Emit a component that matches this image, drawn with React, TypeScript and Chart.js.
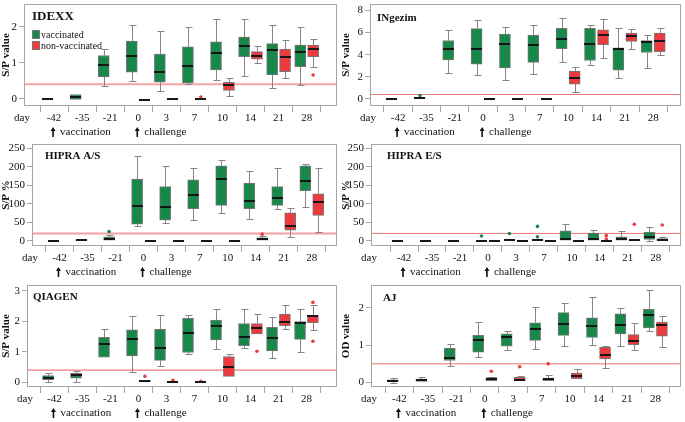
import React, { useEffect, useRef } from 'react';
import { Chart, registerables } from 'chart.js';
Chart.register(...registerables);

const FONT = "'Liberation Serif', 'Times New Roman', serif";
const GREEN = '#18884a';
const RED = '#ec3a3e';
const BOX_BORDER = 'rgba(95,95,95,0.85)';
const WHISKER = '#858585';
const FRAME = '#a6a6a6';
const OFF = 0.23;
const BW = 11;
const CAP = 3;

const days = ['-42', '-35', '-21', '0', '3', '7', '10', '14', '21', '28'];

type Box = [number, number, number, number, number] | null; // [low, q1, median, q3, high]

// ---------- IDEXX (S/P value)
const idexxVacc: Box[] = [
  [0, 0, 0, 0, 0], [-0.02, -0.02, 0.05, 0.12, 0.12], [0.35, 0.61, 0.93, 1.2, 1.37],
  [0.48, 0.74, 1.19, 1.6, 2.04], [0.22, 0.46, 0.75, 1.24, 1.88], [0.41, 0.44, 0.91, 1.44, 2.0],
  [0.53, 0.8, 1.26, 1.58, 2.22], [0.64, 1.17, 1.46, 1.71, 2.22], [0.3, 0.66, 1.35, 1.53, 2.04],
  [0.39, 0.89, 1.29, 1.49, 2.0],
];
const idexxNonVacc: Box[] = [
  null, null, null, [-0.02, -0.02, -0.02, -0.02, -0.02], [0, 0, 0, 0, 0], [0, 0, 0, 0, 0],
  [0.07, 0.23, 0.39, 0.46, 0.57], [1.0, 1.1, 1.2, 1.31, 1.46], [0.57, 0.75, 1.15, 1.37, 1.64],
  [0.88, 1.17, 1.38, 1.49, 1.67],
];
const idexxVaccOut: [number, number][] = [];
const idexxNonVaccOut: [number, number][] = [[5, 0.05], [9, 0.66]];

// ---------- INgezim (S/P value)
const ingezimVacc: Box[] = [
  [0, 0, 0, 0, 0], [0.03, 0.03, 0.05, 0.08, 0.08], [2.36, 3.53, 4.5, 5.28, 6.25],
  [2.16, 3.15, 4.55, 6.36, 7.12], [1.7, 2.8, 4.93, 5.87, 6.5], [2.28, 3.3, 4.9, 5.78, 6.66],
  [3.3, 4.55, 5.43, 6.39, 7.33], [3.1, 3.47, 4.99, 6.39, 6.69], [1.87, 2.6, 4.55, 4.61, 6.45],
  [2.8, 4.2, 5.14, 5.28, 5.81],
];
const ingezimNonVacc: Box[] = [
  null, null, null, [0, 0, 0, 0, 0], [0, 0, 0, 0, 0], [0, 0, 0, 0, 0],
  [0.61, 1.34, 1.87, 2.51, 2.9], [3.68, 4.9, 5.81, 6.25, 7.24], [4.5, 5.2, 5.72, 5.96, 6.3],
  [3.97, 4.26, 5.28, 5.96, 6.45],
];
const ingezimVaccOut: [number, number][] = [[1, 0.3]];
const ingezimNonVaccOut: [number, number][] = [];

// ---------- HIPRA A/S (S/P %)
const hipraAsVacc: Box[] = [
  [0, 0, 0, 0, 0], [1, 1, 2, 3, 3], [0, 2, 6, 11, 15],
  [41, 45, 93, 167, 230], [48, 56, 91, 147, 203], [57, 87, 125, 165, 197],
  [75, 96, 168, 203, 219], [58, 87, 107, 156, 188], [87, 96, 117, 147, 198],
  [92, 136, 162, 203, 208],
];
const hipraAsNonVacc: Box[] = [
  null, null, null, [0, 0, 0, 0, 0], [0, 0, 0, 0, 0], [0, 0, 0, 0, 0],
  [0, 0, 0, 0, 0], [0, 2, 5, 8, 12], [11, 29, 41, 76, 88],
  [23, 69, 106, 127, 196],
];
const hipraAsVaccOut: [number, number][] = [[2, 25]];
const hipraAsNonVaccOut: [number, number][] = [[7, 18]];

// ---------- HIPRA E/S (S/P %)
const hipraEsVacc: Box[] = [
  [0, 0, 0, 0, 0], [0, 0, 0, 0, 0], [0, 0, 0, 0, 0],
  [0, 0, 0, 0, 0], [0, 0, 1, 1, 1], [0, 0, 2, 5, 5],
  [0, 2, 6, 27, 45], [0, 2, 6, 21, 30], [0, 2, 4, 11, 27],
  [0, 4, 10, 24, 37],
];
const hipraEsNonVacc: Box[] = [
  null, null, null, [0, 0, 0, 0, 0], [0, 0, 0, 0, 0], [0, 0, 0, 0, 0],
  [0, 0, 0, 0, 0], [0, 0, 0, 0, 0], [0, 0, 1, 3, 5],
  [0, 0, 3, 6, 11],
];
const hipraEsVaccOut: [number, number][] = [[3, 13], [4, 20], [5, 11], [5, 39]];
const hipraEsNonVaccOut: [number, number][] = [[7, 14], [7, 5], [8, 45], [9, 43]];

// ---------- QIAGEN (S/P value)
const qiagenVacc: Box[] = [
  [0, 0.09, 0.14, 0.22, 0.3], [0.02, 0.14, 0.23, 0.3, 0.38], [0.8, 0.83, 1.26, 1.48, 1.74],
  [0.35, 0.87, 1.41, 1.72, 2.17], [0.55, 0.72, 1.14, 1.74, 2.2], [0.92, 0.98, 1.63, 2.1, 2.2],
  [1.09, 1.39, 1.85, 2.04, 2.39], [1.14, 1.2, 1.48, 1.93, 2.42], [0.79, 1.03, 1.45, 1.8, 2.13],
  [0.98, 1.41, 1.93, 1.99, 2.39],
];
const qiagenNonVacc: Box[] = [
  null, null, null, [0, 0, 0.04, 0.07, 0.07], [0.02, 0.02, 0.03, 0.03, 0.03], [0.01, 0.01, 0.01, 0.01, 0.01],
  [0.17, 0.2, 0.5, 0.85, 0.93], [1.59, 1.59, 1.77, 1.93, 2.24], [1.74, 1.86, 1.99, 2.24, 2.55],
  [1.72, 1.96, 2.17, 2.2, 2.53],
];
const qiagenVaccOut: [number, number][] = [];
const qiagenNonVaccOut: [number, number][] = [[3, 0.2], [4, 0.07], [5, 0.04], [7, 1.02], [9, 2.62], [9, 1.35]];

// ---------- AJ (OD value)
const ajVacc: Box[] = [
  [0, 0.03, 0.05, 0.07, 0.13], [0.02, 0.03, 0.06, 0.09, 0.16], [0.45, 0.59, 0.65, 0.92, 1.03],
  [0.67, 0.81, 1.13, 1.26, 1.61], [0.88, 0.97, 1.21, 1.3, 1.37], [0.91, 1.13, 1.44, 1.6, 2.03],
  [0.99, 1.26, 1.57, 1.87, 2.13], [1.01, 1.21, 1.52, 1.73, 2.3], [0.99, 1.3, 1.53, 1.84, 2.0],
  [1.37, 1.46, 1.8, 1.96, 2.48],
];
const ajNonVacc: Box[] = [
  null, null, null, [0.04, 0.05, 0.09, 0.13, 0.16], [0.03, 0.05, 0.08, 0.14, 0.17], [0.03, 0.05, 0.09, 0.12, 0.2],
  [0.08, 0.1, 0.18, 0.25, 0.37], [0.39, 0.63, 0.74, 0.94, 0.97], [0.86, 1.01, 1.12, 1.28, 1.6],
  [0.94, 1.24, 1.53, 1.62, 1.79],
];
const ajVaccOut: [number, number][] = [];
const ajNonVaccOut: [number, number][] = [[3, 0.3], [4, 0.42], [5, 0.5]];

const panels = [
  {
    key: 'idexx', title: 'IDEXX', titleSize: 13, titleOff: [8, 13], yTitle: 'S/P value',
    vacc: idexxVacc, non: idexxNonVacc, vaccOut: idexxVaccOut, nonOut: idexxNonVaccOut,
    yMin: -0.2, yMax: 2.63, yTicks: [0, 1, 2], cutoff: 0.4, cutColor: '#f5a5a5', cutWidth: 2,
    box: [0, 0, 342, 140], area: { l: 24, r: 337, t: 1, b: 106 }, xMin: -1.07, xMax: 10.08, legend: true,
  },
  {
    key: 'ingezim', title: 'INgezim', titleSize: 11, titleOff: [7, 14], yTitle: 'S/P value',
    vacc: ingezimVacc, non: ingezimNonVacc, vaccOut: ingezimVaccOut, nonOut: ingezimNonVaccOut,
    yMin: -0.64, yMax: 8.58, yTicks: [0, 2, 4, 6, 8], cutoff: 0.4, cutColor: '#f07878', cutWidth: 1,
    box: [340, 0, 345, 140], area: { l: 30, r: 343, t: 1, b: 106 }, xMin: -0.99, xMax: 9.98, legend: false,
  },
  {
    key: 'hipraas', title: 'HIPRA A/S', titleSize: 11, titleOff: [13, 12], yTitle: 'S/P %',
    vacc: hipraAsVacc, non: hipraAsNonVacc, vaccOut: hipraAsVaccOut, nonOut: hipraAsNonVaccOut,
    yMin: -14, yMax: 262, yTicks: [0, 50, 100, 150, 200, 250], cutoff: 20, cutColor: '#f5a0a0', cutWidth: 2,
    box: [0, 140, 342, 140], area: { l: 32, r: 337, t: 3, b: 106 }, xMin: -0.98, xMax: 9.9, legend: false,
  },
  {
    key: 'hipraes', title: 'HIPRA E/S', titleSize: 11, titleOff: [16, 12], yTitle: 'S/P %',
    vacc: hipraEsVacc, non: hipraEsNonVacc, vaccOut: hipraEsVaccOut, nonOut: hipraEsNonVaccOut,
    yMin: -14, yMax: 262, yTicks: [0, 50, 100, 150, 200, 250], cutoff: 20, cutColor: '#f07070', cutWidth: 1,
    box: [340, 140, 345, 140], area: { l: 31, r: 343, t: 3, b: 106 }, xMin: -1.18, xMax: 9.9, legend: false,
  },
  {
    key: 'qiagen', title: 'QIAGEN', titleSize: 11, titleOff: [6, 12], yTitle: 'S/P value',
    vacc: qiagenVacc, non: qiagenNonVacc, vaccOut: qiagenVaccOut, nonOut: qiagenNonVaccOut,
    yMin: -0.15, yMax: 3.19, yTicks: [0, 1, 2, 3], cutoff: 0.4, cutColor: '#f27a7a', cutWidth: 1.2,
    box: [0, 280, 342, 142], area: { l: 27, r: 337, t: 5, b: 107 }, xMin: -0.98, xMax: 10.09, legend: false,
  },
  {
    key: 'aj', title: 'AJ', titleSize: 11, titleOff: [12, 13], yTitle: 'OD value',
    vacc: ajVacc, non: ajNonVacc, vaccOut: ajVaccOut, nonOut: ajNonVaccOut,
    yMin: -0.12, yMax: 2.61, yTicks: [0, 1, 2], cutoff: 0.5, cutColor: '#f07070', cutWidth: 1,
    box: [340, 280, 345, 142], area: { l: 31, r: 343, t: 5, b: 107 }, xMin: -1.0, xMax: 9.9, legend: false,
  },
];

function drawArrow(ctx: CanvasRenderingContext2D, x: number, y: number) {
  ctx.save();
  ctx.fillStyle = '#111';
  ctx.strokeStyle = '#111';
  ctx.lineWidth = 1.6;
  ctx.beginPath();
  ctx.moveTo(x, y + 5);
  ctx.lineTo(x, y - 1);
  ctx.stroke();
  ctx.beginPath();
  ctx.moveTo(x - 2.5, y - 1);
  ctx.lineTo(x + 2.5, y - 1);
  ctx.lineTo(x, y - 5);
  ctx.closePath();
  ctx.fill();
  ctx.restore();
}

function makePlugin(p: any) {
  return {
    id: 'deco_' + p.key,
    beforeDatasetsDraw(chart: any) {
      const { ctx, chartArea: a, scales } = chart;
      const x = scales.x, y = scales.y;
      ctx.save();
      const yc = y.getPixelForValue(p.cutoff);
      ctx.strokeStyle = p.cutColor;
      ctx.lineWidth = p.cutWidth;
      ctx.beginPath();
      ctx.moveTo(a.left, yc);
      ctx.lineTo(a.right, yc);
      ctx.stroke();
      ctx.strokeStyle = WHISKER;
      ctx.lineWidth = 1;
      const groups: [Box[], number][] = [[p.vacc, -OFF], [p.non, OFF]];
      for (const [arr, off] of groups) {
        arr.forEach((b, i) => {
          if (!b) return;
          const cx = Math.round(x.getPixelForValue(i + off)) + 0.5;
          const seg = (v1: number, v2: number) => {
            const p1 = y.getPixelForValue(v1), p2 = y.getPixelForValue(v2);
            if (Math.abs(p1 - p2) < 1) return;
            const pe = Math.round(p2) + 0.5;
            ctx.beginPath();
            ctx.moveTo(cx, p1);
            ctx.lineTo(cx, pe);
            ctx.moveTo(cx - CAP, pe);
            ctx.lineTo(cx + CAP + 1, pe);
            ctx.stroke();
          };
          seg(b[3], b[4]);
          seg(b[1], b[0]);
        });
      }
      ctx.restore();
    },
    afterDatasetsDraw(chart: any) {
      const { ctx, scales } = chart;
      const x = scales.x, y = scales.y;
      ctx.save();
      ctx.fillStyle = '#161616';
      const groups: [Box[], number][] = [[p.vacc, -OFF], [p.non, OFF]];
      for (const [arr, off] of groups) {
        arr.forEach((b, i) => {
          if (!b) return;
          const cx = x.getPixelForValue(i + off);
          const ym = y.getPixelForValue(b[2]);
          ctx.fillRect(Math.round(cx - BW / 2), Math.round(ym - 1), BW, 2);
        });
      }
      ctx.restore();
    },
    afterDraw(chart: any) {
      const { ctx, chartArea: a, scales } = chart;
      const x = scales.x;
      ctx.save();
      ctx.strokeStyle = FRAME;
      ctx.lineWidth = 1;
      ctx.strokeRect(a.left + 0.5, a.top + 0.5, a.right - a.left - 1, a.bottom - a.top - 1);
      // panel title
      ctx.fillStyle = '#111';
      ctx.textBaseline = 'middle';
      ctx.textAlign = 'left';
      ctx.font = `bold ${p.titleSize}px ${FONT}`;
      ctx.fillText(p.title, a.left + p.titleOff[0], a.top + p.titleOff[1]);
      // legend
      if (p.legend) {
        ctx.font = `10px ${FONT}`;
        ctx.fillStyle = GREEN;
        ctx.fillRect(a.left + 8, a.top + 26, 8, 9);
        ctx.fillStyle = RED;
        ctx.fillRect(a.left + 8, a.top + 37, 8, 9);
        ctx.strokeStyle = '#777';
        ctx.strokeRect(a.left + 8.5, a.top + 26.5, 7, 8);
        ctx.strokeRect(a.left + 8.5, a.top + 37.5, 7, 8);
        ctx.fillStyle = '#111';
        ctx.fillText('vaccinated', a.left + 17, a.top + 31);
        ctx.fillText('non-vaccinated', a.left + 17, a.top + 42);
      }
      // "day" label
      ctx.font = `11px ${FONT}`;
      ctx.textAlign = 'center';
      ctx.fillText('day', a.left - 2, a.bottom + 12);
      // annotations
      const ay = a.bottom + 26;
      const vx = x.getPixelForValue(0) - 1;
      const cxp = x.getPixelForValue(3) - 1;
      drawArrow(ctx, vx, ay);
      drawArrow(ctx, cxp, ay);
      ctx.textAlign = 'left';
      ctx.fillText('vaccination', vx + 7, ay);
      ctx.fillText('challenge', cxp + 7, ay);
      ctx.restore();
    },
  };
}

function Panel({ p }: { p: any }) {
  const ref = useRef<HTMLCanvasElement>(null);
  useEffect(() => {
    const canvas = ref.current;
    if (!canvas) return;
    const [, , W, H] = p.box;
    const mkBars = (arr: Box[], off: number) =>
      arr.map((b, i) => (b ? { x: i + off, y: [b[1], b[3]] } : null)).filter(Boolean);
    const chart = new Chart(canvas, {
      type: 'bar',
      data: {
        datasets: [
          {
            type: 'bar', label: 'vaccinated', data: mkBars(p.vacc, -OFF) as any,
            backgroundColor: GREEN, borderColor: BOX_BORDER, borderWidth: 1, borderSkipped: false,
            barThickness: BW, grouped: false,
          },
          {
            type: 'bar', label: 'non-vaccinated', data: mkBars(p.non, OFF) as any,
            backgroundColor: RED, borderColor: BOX_BORDER, borderWidth: 1, borderSkipped: false,
            barThickness: BW, grouped: false,
          },
          {
            type: 'scatter', label: 'vacc outliers',
            data: p.vaccOut.map(([i, v]: [number, number]) => ({ x: i - OFF, y: v })),
            backgroundColor: GREEN, borderWidth: 0, pointRadius: 1.8,
          },
          {
            type: 'scatter', label: 'non outliers',
            data: p.nonOut.map(([i, v]: [number, number]) => ({ x: i + OFF, y: v })),
            backgroundColor: RED, borderWidth: 0, pointRadius: 1.8,
          },
        ] as any,
      },
      options: {
        responsive: false,
        animation: false,
        devicePixelRatio: 1,
        layout: { padding: { left: 0, top: p.area.t, right: W - p.area.r, bottom: 0 } },
        plugins: { legend: { display: false }, tooltip: { enabled: false }, title: { display: false } },
        scales: {
          x: {
            type: 'linear', min: p.xMin, max: p.xMax, offset: false,
            grid: { display: true, drawOnChartArea: false, drawTicks: true, tickLength: 6, color: FRAME },
            border: { display: false },
            ticks: {
              font: { family: FONT, size: 11 }, color: '#111', padding: 0, autoSkip: false, maxRotation: 0,
              callback: (v: any) => days[Math.round(Number(v))] ?? '',
            },
            afterBuildTicks: (s: any) => { s.ticks = days.map((_, i) => ({ value: i })); },
            afterFit: (s: any) => { s.height = H - p.area.b; s.paddingLeft = 0; s.paddingRight = 0; },
          },
          y: {
            type: 'linear', min: p.yMin, max: p.yMax,
            grid: { display: true, drawOnChartArea: false, drawTicks: true, tickLength: 5, color: FRAME },
            border: { display: false },
            ticks: { font: { family: FONT, size: 11 }, color: '#111', padding: 2 },
            title: { display: true, text: p.yTitle, font: { family: FONT, size: 11, weight: 'bold' }, color: '#111', padding: 0 },
            afterBuildTicks: (s: any) => { s.ticks = p.yTicks.map((v: number) => ({ value: v })); },
            afterFit: (s: any) => { s.width = p.area.l; s.paddingTop = 0; s.paddingBottom = 0; },
          },
        },
      } as any,
      plugins: [makePlugin(p)],
    });
    return () => chart.destroy();
  }, [p]);
  const [l, t, w, h] = p.box;
  return (
    <canvas
      ref={ref}
      width={w}
      height={h}
      style={{ position: 'absolute', left: l, top: t, width: w, height: h, display: 'block' }}
    />
  );
}

export default function App() {
  return (
    <div style={{ position: 'absolute', left: 0, top: 0, width: 685, height: 422, background: '#fff', overflow: 'hidden' }}>
      {panels.map((p) => (
        <Panel key={p.key} p={p} />
      ))}
    </div>
  );
}
